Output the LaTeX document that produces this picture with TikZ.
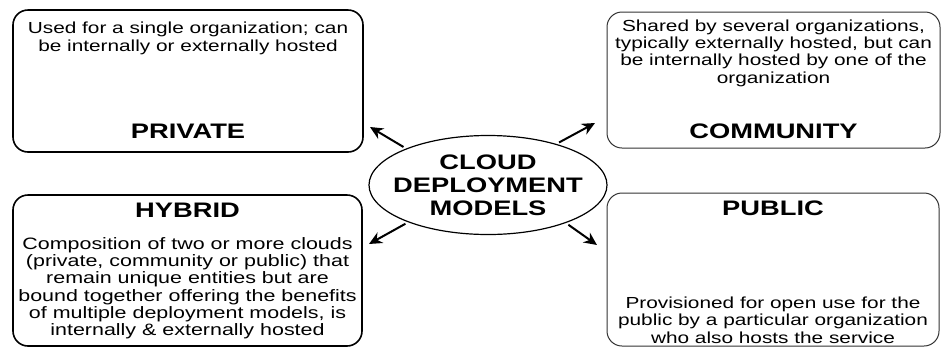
\documentclass[tikz,border=0pt]{standalone}
\usepackage{fontspec}
\setmainfont[FakeStretch=1.3]{Liberation Sans}
\usetikzlibrary{positioning,arrows.meta,shapes.geometric}

\tikzstyle{modelbox} = [draw=black, line width=1.6pt, rectangle, rounded corners=15pt, inner sep=0pt]
\tikzstyle{lightbox} = [modelbox, line width=1pt, draw=black!80]
\tikzstyle{boxtitle} = [inner sep=0pt, font=\fontsize{21}{23}\selectfont\bfseries]
\tikzstyle{boxtext} = [inner sep=0pt, align=center, font=\fontsize{16}{17.3}\selectfont]
\tikzstyle{pointer} = [line width=2pt, -{Stealth[length=13pt,width=12pt]}, shorten <=3pt]

\begin{document}
\begin{tikzpicture}[x=1pt,y=-1pt]
\useasboundingbox (0,0) rectangle (942,349);
\node[ellipse, draw, line width=1.2pt, minimum width=238pt, minimum height=99pt, inner xsep=-30pt, inner ysep=0pt,
      align=center, font=\fontsize{21}{23}\selectfont\bfseries] (cdm) at (488,185) {CLOUD\\DEPLOYMENT\\MODELS};

\node[modelbox, minimum width=350pt, minimum height=142pt] (private) at (188,81) {};
\node[lightbox, minimum width=333pt, minimum height=136pt] (community) at (773.5,80) {};
\node[modelbox, minimum width=349pt, minimum height=151pt] (hybrid) at (187.5,270.5) {};
\node[lightbox, minimum width=332pt, minimum height=153pt] (public) at (773,269.5) {};

\node[boxtext, below=13pt of private.north] (privatetext) {Used for a single organization; can\\be internally or externally hosted};
\node[boxtitle, above=14pt of private.south] (privatetitle) {PRIVATE};
\node[boxtext, below=8pt of community.north] (communitytext) {Shared by several organizations,\\typically externally hosted, but can\\be internally hosted by one of the\\organization};
\node[boxtitle, above=10pt of community.south] (communitytitle) {COMMUNITY};
\node[boxtitle, below=9pt of hybrid.north] (hybridtitle) {HYBRID};
\node[boxtext, font=\fontsize{16.5}{17.3}\selectfont, below=19pt of hybridtitle] (hybridtext) {Composition of two or more clouds\\(private, community or public) that\\remain unique entities but are\\bound together offering the benefits\\of multiple deployment models, is\\internally \& externally hosted};
\node[boxtitle, below=8.5pt of public.north] (publictitle) {PUBLIC};
\node[boxtext, above=3pt of public.south] (publictext) {Provisioned for open use for the\\public by a particular organization\\who also hosts the service};

\coordinate (privatetip) at (370,127);
\coordinate (communitytip) at (595,123);
\coordinate (hybridtip) at (369,244);
\coordinate (publictip) at (597,245);
\draw[pointer] (cdm.156) -- (privatetip);
\draw[pointer] (cdm.31) -- (communitytip);
\draw[pointer] (cdm.205) -- (hybridtip);
\draw[pointer] (cdm.334) -- (publictip);
\end{tikzpicture}
\end{document}
